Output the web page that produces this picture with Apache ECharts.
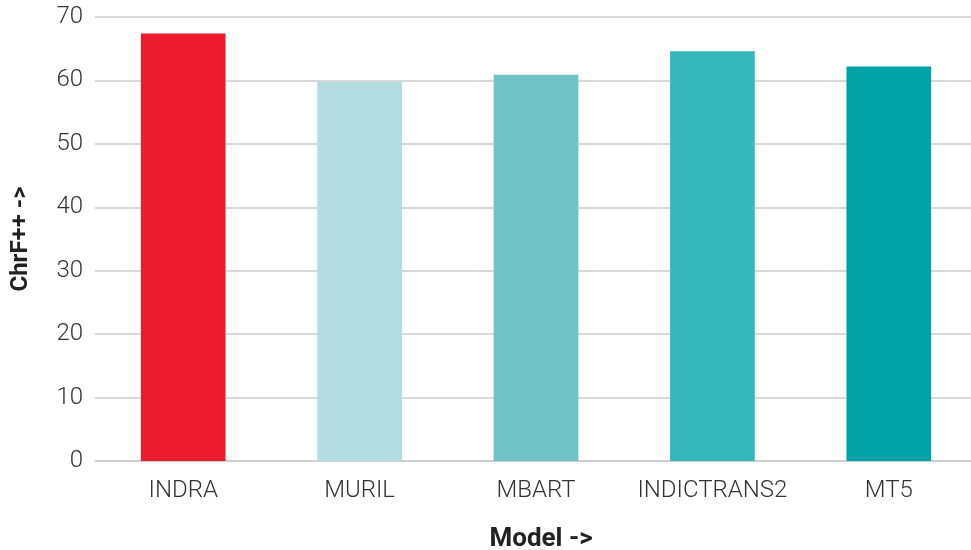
<!DOCTYPE html>
<html><head><meta charset="utf-8">
<script src="https://cdn.jsdelivr.net/npm/echarts@6/dist/echarts.min.js"></script>
<style>html,body{margin:0;padding:0;background:#fff}#c{width:971px;height:550px}</style>
</head><body><div id="c"></div>
<script>
const categories = ['INDRA', 'MURIL', 'MBART', 'INDICTRANS2', 'MT5'];
const values = [67.4, 59.8, 60.9, 64.6, 62.2];
const barColors = ['#ED1B2F', '#B2DCE0', '#70C3C7', '#34B6BB', '#00A2A6'];
const yTicks = [0, 10, 20, 30, 40, 50, 60, 70];

const chart = echarts.init(document.getElementById('c'), null, {renderer: 'canvas'});
chart.setOption({
  animation: false,
  grid: {left: 95, right: -6, top: 17, bottom: 89, containLabel: false, outerBoundsMode: 'none'},
  xAxis: {
    type: 'category',
    data: categories,
    name: 'Model ->',
    nameLocation: 'middle',
    nameGap: 65,
    nameTextStyle: {fontFamily: 'Roboto', fontWeight: 'bold', fontSize: 26, color: '#222', padding: [0, 0, 0, 10]},
    axisLine: {lineStyle: {color: '#CCCCCC', width: 1.5}},
    axisTick: {show: false},
    axisLabel: {fontFamily: 'Roboto', fontWeight: 300, fontSize: 24, color: '#333', margin: 18, interval: 0}
  },
  yAxis: {
    type: 'value',
    min: 0, max: 70, interval: 10,
    name: 'ChrF++ ->',
    nameLocation: 'middle',
    nameGap: 62,
    nameRotate: 90,
    nameTextStyle: {fontFamily: 'Roboto', fontWeight: 'bold', fontSize: 24, color: '#222'},
    axisLine: {show: false},
    axisTick: {show: false},
    splitLine: {lineStyle: {color: '#CCCCCC', width: 1.5}},
    axisLabel: {fontFamily: 'Roboto', fontWeight: 300, fontSize: 24, color: '#333', margin: 12,
      formatter: v => yTicks.includes(v) ? String(v) : ''}
  },
  series: [{
    type: 'bar',
    barWidth: '48%',
    data: values.map((v, i) => ({value: v, itemStyle: {color: barColors[i]}}))
  }]
});
</script></body></html>
